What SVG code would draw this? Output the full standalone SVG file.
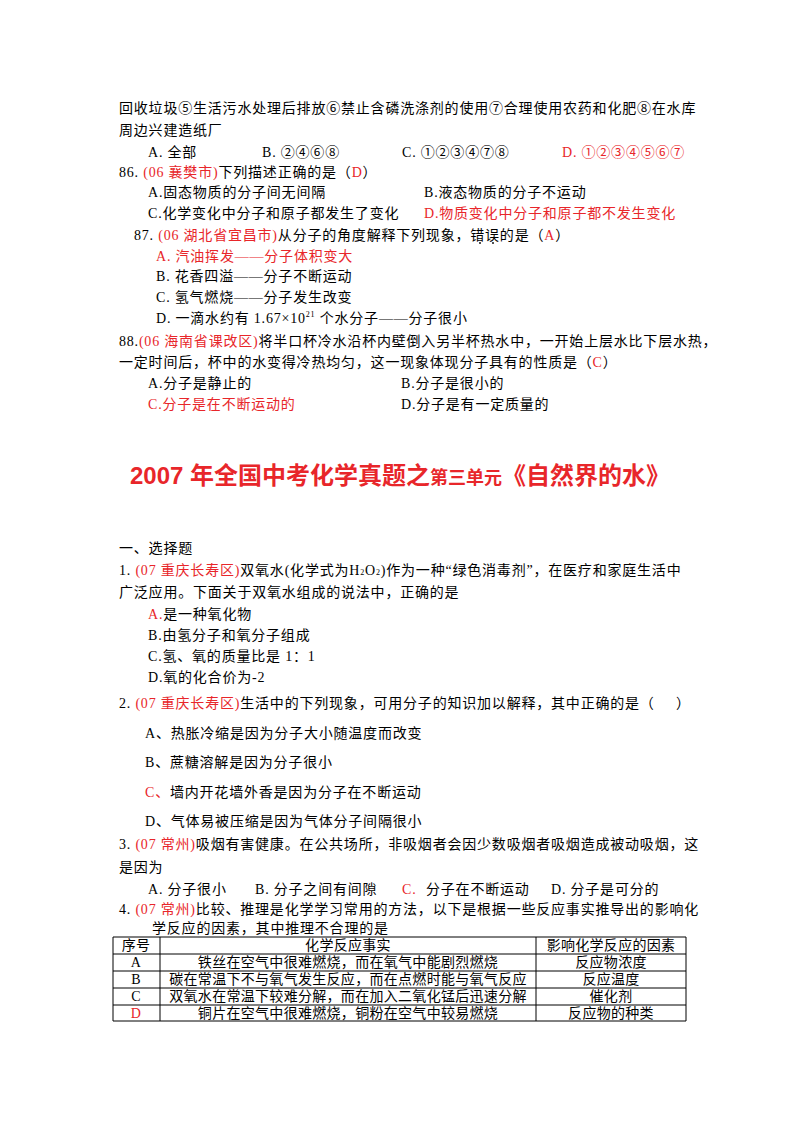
<svg xmlns="http://www.w3.org/2000/svg" width="800" height="1132" viewBox="0 0 800 1132">
<style>
text{font-family:"Liberation Serif","Noto Sans CJK SC",serif;font-size:14px;fill:#000;letter-spacing:0.8px}
#table text{letter-spacing:0.3px}
.r{fill:#e8262a}
.t{font-family:"Liberation Sans","Noto Sans CJK SC",sans-serif;font-weight:bold;fill:#e8262a;font-size:24px;letter-spacing:0}
.s{font-size:8px}
.c{text-anchor:middle}
line{stroke:#000;stroke-width:1}
</style>
<rect width="800" height="1132" fill="#fff"/>
<text x="119" y="113">回收垃圾⑤生活污水处理后排放⑥禁止含磷洗涤剂的使用⑦合理使用农药和化肥⑧在水库</text>
<text x="119" y="135">周边兴建造纸厂</text>
<text x="148" y="157">A. 全部</text>
<text x="262" y="157">B. ②④⑥⑧</text>
<text x="402" y="157">C. ①②③④⑦⑧</text>
<text x="562" y="157" class="r">D. ①②③④⑤⑥⑦</text>
<text x="119" y="177">86. <tspan class="r">(06 襄樊市)</tspan>下列描述正确的是（<tspan class="r">D</tspan>）</text>
<text x="148" y="197">A.固态物质的分子间无间隔</text>
<text x="424" y="197">B.液态物质的分子不运动</text>
<text x="148" y="218">C.化学变化中分子和原子都发生了变化</text>
<text x="424" y="218" class="r">D.物质变化中分子和原子都不发生变化</text>
<text x="134" y="240">87. <tspan class="r">(06 湖北省宜昌市)</tspan>从分子的角度解释下列现象，错误的是（<tspan class="r">A</tspan>）</text>
<circle cx="480" cy="243" r="0.9" fill="#000"/><circle cx="493" cy="243" r="0.9" fill="#000"/>
<text x="156" y="261" class="r">A. 汽油挥发——分子体积变大</text>
<text x="156" y="281">B. 花香四溢——分子不断运动</text>
<text x="156" y="302">C. 氢气燃烧——分子发生改变</text>
<text x="156" y="323">D. 一滴水约有 1.67×10<tspan class="s" dy="-6">21</tspan><tspan dy="6"> 个水分子——分子很小</tspan></text>
<text x="119" y="346">88.<tspan class="r">(06 海南省课改区)</tspan>将半口杯冷水沿杯内壁倒入另半杯热水中，一开始上层水比下层水热，</text>
<text x="119" y="367">一定时间后，杯中的水变得冷热均匀，这一现象体现分子具有的性质是（<tspan class="r">C</tspan>）</text>
<text x="148" y="388">A.分子是静止的</text>
<text x="401" y="388">B.分子是很小的</text>
<text x="148" y="409" class="r">C.分子是在不断运动的</text>
<text x="401" y="409">D.分子是有一定质量的</text>
<text x="400" y="484" class="t c">2007 年全国中考化学真题之<tspan style="font-size:18px">第三单元</tspan>《自然界的水》</text>
<text x="119" y="553">一、选择题</text>
<text x="119" y="575">1. <tspan class="r">(07 重庆长寿区)</tspan>双氧水(化学式为H<tspan class="s">2</tspan>O<tspan class="s">2</tspan>)作为一种“绿色消毒剂”，在医疗和家庭生活中</text>
<text x="119" y="597">广泛应用。下面关于双氧水组成的说法中，正确的是</text>
<text x="148" y="619"><tspan class="r">A.</tspan>是一种氧化物</text>
<text x="148" y="640">B.由氢分子和氧分子组成</text>
<text x="148" y="661">C.氢、氧的质量比是 1：1</text>
<text x="148" y="682">D.氧的化合价为-2</text>
<text x="119" y="708">2. <tspan class="r">(07 重庆长寿区)</tspan>生活中的下列现象，可用分子的知识加以解释，其中正确的是（</text>
<text x="676" y="708">）</text>
<text x="145" y="738">A、热胀冷缩是因为分子大小随温度而改变</text>
<text x="145" y="767">B、蔗糖溶解是因为分子很小</text>
<text x="145" y="797"><tspan class="r">C、</tspan>墙内开花墙外香是因为分子在不断运动</text>
<text x="145" y="826">D、气体易被压缩是因为气体分子间隔很小</text>
<text x="119" y="849">3. <tspan class="r">(07 常州)</tspan>吸烟有害健康。在公共场所，非吸烟者会因少数吸烟者吸烟造成被动吸烟，这</text>
<text x="119" y="872">是因为</text>
<text x="148" y="894">A. 分子很小</text>
<text x="255" y="894">B. 分子之间有间隙</text>
<text x="402" y="894" class="r">C.</text><text x="426" y="894">分子在不断运动</text>
<text x="551" y="894">D. 分子是可分的</text>
<text x="119" y="914">4. <tspan class="r">(07 常州)</tspan>比较、推理是化学学习常用的方法，以下是根据一些反应事实推导出的影响化</text>
<text x="152" y="933">学反应的因素，其中推理不合理的是</text>
<g id="table">
<line x1="113" y1="937" x2="686" y2="937"/>
<line x1="113" y1="954" x2="686" y2="954"/>
<line x1="113" y1="971" x2="686" y2="971"/>
<line x1="113" y1="988" x2="686" y2="988"/>
<line x1="113" y1="1005" x2="686" y2="1005"/>
<line x1="113" y1="1021" x2="686" y2="1021"/>
<line x1="113" y1="937" x2="113" y2="1021"/>
<line x1="160" y1="937" x2="160" y2="1021"/>
<line x1="536" y1="937" x2="536" y2="1021"/>
<line x1="686" y1="937" x2="686" y2="1021"/>
<text x="136" y="950" class="c">序号</text>
<text x="348" y="950" class="c">化学反应事实</text>
<text x="611" y="950" class="c">影响化学反应的因素</text>
<text x="136" y="967" class="c">A</text>
<text x="348" y="967" class="c">铁丝在空气中很难燃烧，而在氧气中能剧烈燃烧</text>
<text x="611" y="967" class="c">反应物浓度</text>
<text x="136" y="984" class="c">B</text>
<text x="348" y="984" class="c">碳在常温下不与氧气发生反应，而在点燃时能与氧气反应</text>
<text x="611" y="984" class="c">反应温度</text>
<text x="136" y="1001" class="c">C</text>
<text x="348" y="1001" class="c">双氧水在常温下较难分解，而在加入二氧化锰后迅速分解</text>
<text x="611" y="1001" class="c">催化剂</text>
<text x="136" y="1018" class="c r">D</text>
<text x="348" y="1018" class="c">铜片在空气中很难燃烧，铜粉在空气中较易燃烧</text>
<text x="611" y="1018" class="c">反应物的种类</text>
</g>
</svg>
